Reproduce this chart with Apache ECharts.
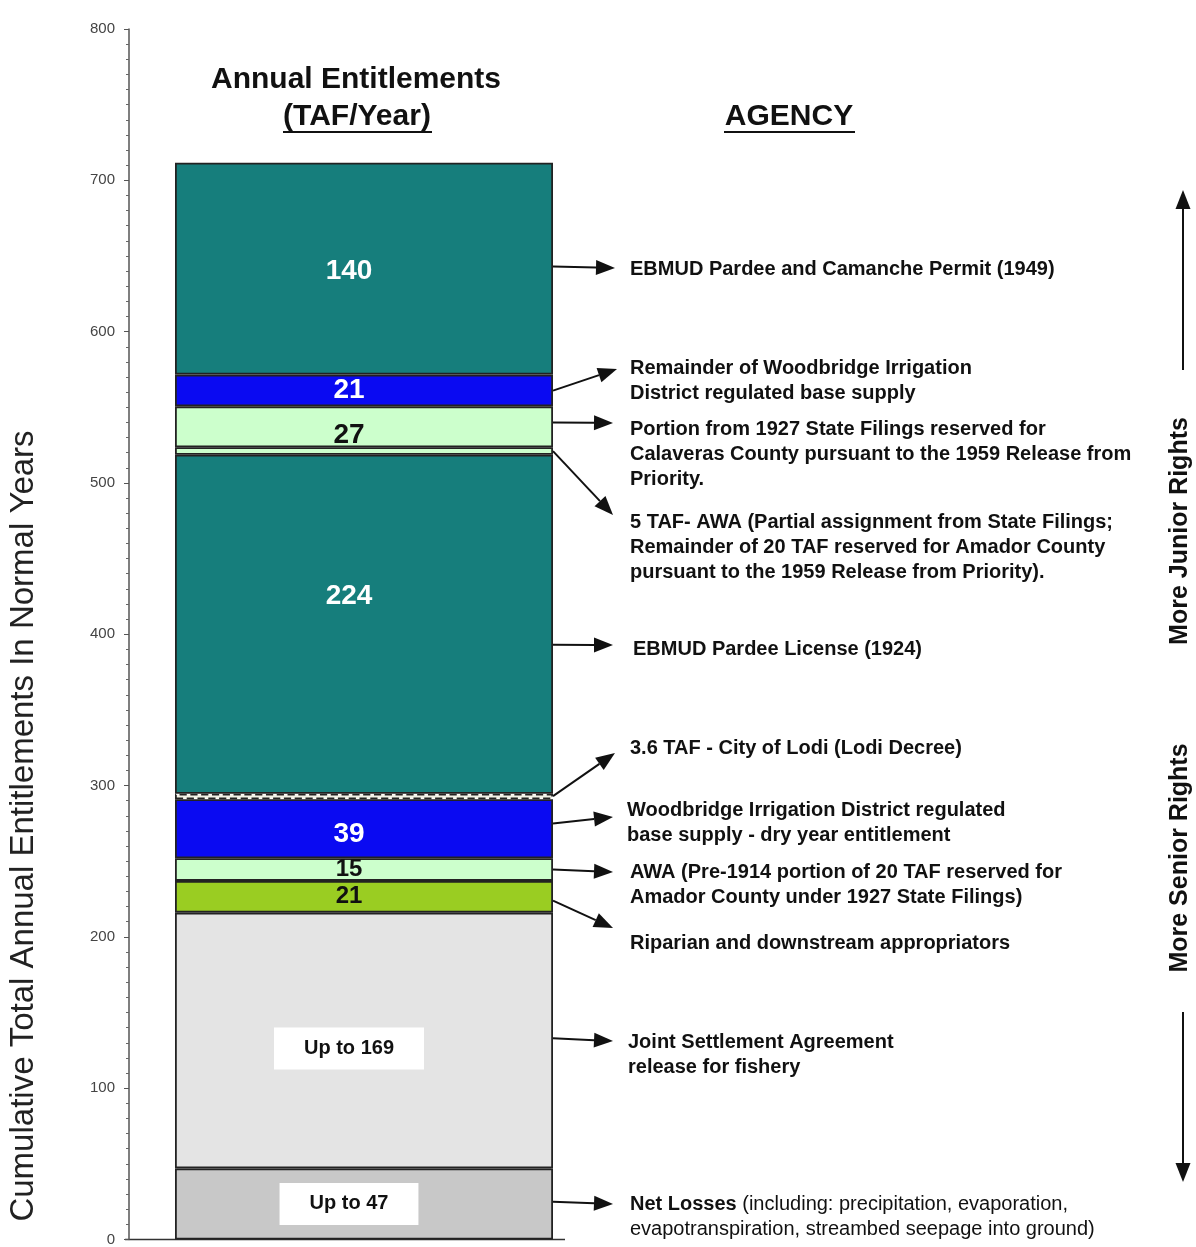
<!DOCTYPE html>
<html>
<head>
<meta charset="utf-8">
<script src="https://cdn.jsdelivr.net/npm/echarts@6/dist/echarts.min.js"></script>
<style>
  html, body { margin: 0; padding: 0; background: #fff; }
  #main { width: 1196px; height: 1247px; }
</style>
</head>
<body>
<div id="main"></div>
<script>
// entitlements stacked from most senior (bottom) to most junior (top), TAF/year
var segNames = ['Net Losses', 'Joint Settlement Agreement', 'Riparian and downstream', 'AWA Pre-1914',
  'WID dry year', 'City of Lodi', 'EBMUD Pardee License', 'AWA 5 TAF', 'Calaveras County',
  'WID remainder', 'EBMUD Pardee and Camanche Permit'];
var segValues = [47, 169, 21, 15, 39, 3.6, 224, 5, 27, 21, 140];
var segLabels = ['Up to 47', 'Up to 169', '21', '15', '39', '', '224', '', '27', '21', '140'];

var yMin = 0, yMax = 800, yStep = 100;

// agency notes (top to bottom) and the TAF level where each arrow leaves the bar
var noteTexts = [
  ['EBMUD Pardee and Camanche Permit (1949)'],
  ['Remainder of Woodbridge Irrigation', 'District regulated base supply'],
  ['Portion from 1927 State Filings reserved for', 'Calaveras County pursuant to the 1959 Release from', 'Priority.'],
  ['5 TAF- AWA (Partial assignment from State Filings;', 'Remainder of 20 TAF reserved for Amador County', 'pursuant to the 1959 Release from Priority).'],
  ['EBMUD Pardee License (1924)'],
  ['3.6 TAF - City of Lodi (Lodi Decree)'],
  ['Woodbridge Irrigation District regulated', 'base supply - dry year entitlement'],
  ['AWA (Pre-1914 portion of 20 TAF reserved for', 'Amador County under 1927 State Filings)'],
  ['Riparian and downstream appropriators'],
  ['Joint Settlement Agreement', 'release for fishery'],
  ['{b|Net Losses} {n|(including: precipitation, evaporation,}', '{n|evapotranspiration, streambed seepage into ground)}']
];
var noteFrom = [643, 561, 540, 521, 393, 293, 275, 244.5, 224, 133, 25];

// layout only: arrow tips and first text line (pixels)
var noteLayout = [
  { ax: 615, ay: 268, tx: 630, ty: 269 },
  { ax: 617, ay: 369, tx: 630, ty: 368 },
  { ax: 613, ay: 423, tx: 630, ty: 429 },
  { ax: 613, ay: 515, tx: 630, ty: 522 },
  { ax: 613, ay: 645, tx: 633, ty: 649 },
  { ax: 615, ay: 753, tx: 630, ty: 748 },
  { ax: 613, ay: 817, tx: 627, ty: 810 },
  { ax: 613, ay: 872, tx: 630, ty: 872 },
  { ax: 613, ay: 928, tx: 630, ty: 943 },
  { ax: 613, ay: 1041, tx: 628, ty: 1042 },
  { ax: 613, ay: 1204, tx: 630, ty: 1204 }
];

var FONT = 'Arial, "Liberation Sans", Helvetica, sans-serif';
var segColors = ['#c8c8c8', '#e4e4e4', '#9acd22', '#ccffcc', '#0a0af2', '#f2f2e6', '#167e7c', '#ccffcc', '#ccffcc', '#0a0af2', '#167e7c'];
var labelColors = ['#111', '#111', '#111', '#111', '#fff', '#111', '#fff', '#111', '#111', '#fff', '#fff'];
var labelOffsets = [[-15, 0], [-15, 8], [-15, 0], [-15, 0], [-15, 6], [0, 0], [-15, -28], [0, 0], [-15, 8], [-15, 0], [-15, 3]];

var chart = echarts.init(document.getElementById('main'));

var series = segValues.map(function (v, i) {
  var boxed = segLabels[i].indexOf('Up to') === 0;
  return {
    name: segNames[i],
    type: 'bar',
    stack: 'total',
    barWidth: 378,
    silent: true,
    data: [v],
    itemStyle: {
      color: segColors[i],
      borderColor: '#222',
      borderWidth: 1.8,
      borderType: i === 5 ? 'dashed' : 'solid'
    },
    label: {
      show: segLabels[i] !== '',
      position: 'inside',
      formatter: segLabels[i],
      color: labelColors[i],
      fontFamily: FONT,
      fontWeight: 'bold',
      fontSize: boxed ? 20 : (i < 4 ? 24 : 28),
      textBorderWidth: 0,
      offset: labelOffsets[i],
      backgroundColor: boxed ? '#fff' : 'transparent',
      padding: boxed ? [11, 30] : 0
    }
  };
});

chart.setOption({
  animation: false,
  grid: { left: 129, right: 597, top: 29, bottom: 4 },
  xAxis: { type: 'category', data: ['Entitlements'], show: false },
  yAxis: {
    type: 'value',
    min: yMin,
    max: yMax,
    interval: yStep,
    axisLine: { show: true, lineStyle: { color: '#555', width: 1.5 } },
    axisTick: { show: true, length: 5, lineStyle: { color: '#555' } },
    minorTick: { show: true, splitNumber: 10, length: 3, lineStyle: { color: '#666' } },
    splitLine: { show: false },
    axisLabel: { color: '#444', fontSize: 15, fontFamily: FONT, margin: 14 }
  },
  series: series
});

// annotations
function arrow(x1, y1, x2, y2) {
  var dx = x2 - x1, dy = y2 - y1;
  var len = Math.sqrt(dx * dx + dy * dy);
  var ux = dx / len, uy = dy / len;
  var hl = 19, hw = 7.5;
  var bx = x2 - ux * hl, by = y2 - uy * hl;
  return [
    { type: 'line', silent: true, shape: { x1: x1, y1: y1, x2: bx, y2: by }, style: { stroke: '#111', lineWidth: 2 } },
    { type: 'polygon', silent: true, shape: { points: [[x2, y2], [bx - uy * hw, by + ux * hw], [bx + uy * hw, by - ux * hw]] }, style: { fill: '#111' } }
  ];
}

var barRight = 553;
var y0 = chart.convertToPixel({ yAxisIndex: 0 }, 0);
var g = [];

noteTexts.forEach(function (lines, i) {
  var L = noteLayout[i];
  var sy = chart.convertToPixel({ yAxisIndex: 0 }, noteFrom[i]);
  g = g.concat(arrow(barRight, sy, L.ax, L.ay));
  g.push({
    type: 'text', silent: true, x: L.tx, y: L.ty - 12.5,
    style: {
      text: lines.join('\n'),
      fill: '#111',
      font: 'bold 20px ' + FONT,
      lineHeight: 25,
      align: 'left',
      verticalAlign: 'top',
      rich: {
        b: { font: 'bold 20px ' + FONT, fill: '#111', lineHeight: 25 },
        n: { font: '20px ' + FONT, fill: '#111', lineHeight: 25 }
      }
    }
  });
});

// baseline
g.push({ type: 'line', silent: true, shape: { x1: 125, y1: y0, x2: 565, y2: y0 }, style: { stroke: '#333', lineWidth: 1.5 } });

// headings
g.push({ type: 'text', silent: true, x: 356, y: 80, style: { text: 'Annual Entitlements', font: 'bold 30px ' + FONT, fill: '#111', align: 'center', verticalAlign: 'middle' } });
g.push({ type: 'text', silent: true, x: 357, y: 117, style: { text: '(TAF/Year)', font: 'bold 30px ' + FONT, fill: '#111', align: 'center', verticalAlign: 'middle' } });
g.push({ type: 'line', silent: true, shape: { x1: 283, y1: 132, x2: 432, y2: 132 }, style: { stroke: '#111', lineWidth: 2 } });
g.push({ type: 'text', silent: true, x: 789, y: 117, style: { text: 'AGENCY', font: 'bold 30px ' + FONT, fill: '#111', align: 'center', verticalAlign: 'middle' } });
g.push({ type: 'line', silent: true, shape: { x1: 724, y1: 132, x2: 855, y2: 132 }, style: { stroke: '#111', lineWidth: 2 } });

// y axis title
g.push({ type: 'text', silent: true, x: 24, y: 826, rotation: Math.PI / 2, style: { text: 'Cumulative Total Annual Entitlements In Normal Years', font: '33px ' + FONT, fill: '#222', align: 'center', verticalAlign: 'middle' } });

// seniority indicators
g.push({ type: 'text', silent: true, x: 1180, y: 531, rotation: Math.PI / 2, style: { text: 'More Junior Rights', font: 'bold 25px ' + FONT, fill: '#111', align: 'center', verticalAlign: 'middle' } });
g.push({ type: 'text', silent: true, x: 1180, y: 858, rotation: Math.PI / 2, style: { text: 'More Senior Rights', font: 'bold 25px ' + FONT, fill: '#111', align: 'center', verticalAlign: 'middle' } });
g = g.concat(arrow(1183, 370, 1183, 190));
g = g.concat(arrow(1183, 1012, 1183, 1182));

chart.setOption({ graphic: g });
</script>
</body>
</html>
